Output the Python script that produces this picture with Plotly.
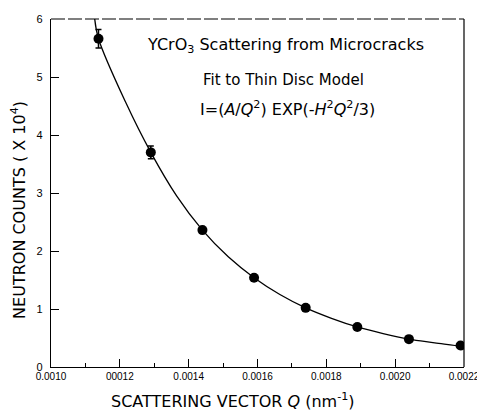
import plotly.graph_objects as go

# Measured data points (Q in nm^-1, counts in units of 10^4)
q_data = [0.001138, 0.00129, 0.00144, 0.00159, 0.00174, 0.00189, 0.00204, 0.00219]
counts = [5.66, 3.70, 2.36, 1.54, 1.02, 0.69, 0.48, 0.37]
count_err = [0.16, 0.11, 0.0, 0.0, 0.0, 0.0, 0.0, 0.0]

# Fitted curve
q_fit = [0.001127, 0.001138, 0.001218, 0.00129, 0.001365, 0.00144, 0.001515,
         0.00159, 0.001665, 0.00174, 0.001815, 0.00189, 0.001965, 0.00204,
         0.002115, 0.00219, 0.0022]
i_fit = [6.0, 5.66, 4.55, 3.70, 2.95, 2.36, 1.90, 1.54, 1.25, 1.02, 0.84,
         0.69, 0.575, 0.48, 0.415, 0.35, 0.31]

x_tickvals = [0.0010, 0.0012, 0.0014, 0.0016, 0.0018, 0.0020, 0.0022]
x_ticktext = ["0.0010", "00012", "0.0014", "0.0016", "0.0018", "0.0020", "0.0022"]
y_tickvals = [0, 1, 2, 3, 4, 5, 6]
y_ticktext = ["0", "1", "2", "3", "4", "5", "6"]

fig = go.Figure()
fig.add_trace(go.Scatter(
    x=q_fit, y=i_fit, mode="lines",
    line=dict(color="black", width=1.3, shape="spline", smoothing=1.0),
    hoverinfo="skip", showlegend=False))
fig.add_trace(go.Scatter(
    x=q_data, y=counts, mode="markers",
    marker=dict(color="black", size=10),
    error_y=dict(type="data", array=count_err, color="black", thickness=1.5, width=3),
    showlegend=False))

tick_font = dict(family="Liberation Sans", size=10, color="black")
fig.update_layout(
    width=477, height=406,
    margin=dict(l=43, r=17, t=5, b=47),
    paper_bgcolor="white", plot_bgcolor="white",
    font=dict(family="DejaVu Sans", color="black"),
    xaxis=dict(range=[0.0010, 0.0022], tickvals=x_tickvals, ticktext=x_ticktext,
               ticks="inside", ticklen=8, tickwidth=1.2, tickcolor="black",
               minor=dict(dtick=0.0001, tick0=0.001, ticks="inside", ticklen=4,
                          tickwidth=1, tickcolor="black"),
               showline=True, linecolor="black", linewidth=1.3, mirror=False,
               showgrid=False, zeroline=False, ticklabeloverflow="allow",
               tickfont=tick_font),
    yaxis=dict(range=[0, 6], tickvals=y_tickvals, ticktext=y_ticktext,
               ticks="inside", ticklen=8, tickwidth=1.2, tickcolor="black",
               showline=True, linecolor="black", linewidth=1.3, mirror=False,
               showgrid=False, zeroline=False, ticklabelstandoff=5,
               ticklabeloverflow="allow",
               tickfont=dict(family="Liberation Sans", size=11, color="black")),
    shapes=[
        dict(type="line", xref="paper", yref="paper", x0=0, x1=1, y0=1, y1=1,
             line=dict(color="black", width=1.2, dash="14px,3px")),
        dict(type="line", xref="paper", yref="paper", x0=1, x1=1, y0=0, y1=1,
             line=dict(color="black", width=1.2)),
    ],
    annotations=[
        dict(text="YCrO<sub>3</sub> Scattering from Microcracks", xref="paper", yref="paper",
             x=0.567, y=0.924, xanchor="center", yanchor="middle", showarrow=False,
             font=dict(size=16)),
        dict(text="Fit to Thin Disc Model", xref="paper", yref="paper",
             x=0.362, y=0.825, xanchor="left", yanchor="middle", showarrow=False,
             font=dict(size=15)),
        dict(text="I=(<i>A</i>/<i>Q</i><sup>2</sup>) EXP(-<i>H</i><sup>2</sup><i>Q</i><sup>2</sup>/3)",
             xref="paper", yref="paper", x=0.357, y=0.743, xanchor="left", yanchor="middle",
             showarrow=False, font=dict(size=16)),
        dict(text="SCATTERING VECTOR <i>Q</i> (nm<sup>-1</sup>)", xref="paper", yref="paper",
             x=0.441, y=0, yshift=-33, xanchor="center", yanchor="middle", showarrow=False,
             font=dict(size=16)),
        dict(text="NEUTRON COUNTS ( X 10<sup>4</sup>)", xref="paper", yref="paper",
             x=0, xshift=-32, y=0.4515, xanchor="center", yanchor="middle", textangle=-90,
             showarrow=False, font=dict(size=16)),
    ],
)

fig.write_html("out.html")
